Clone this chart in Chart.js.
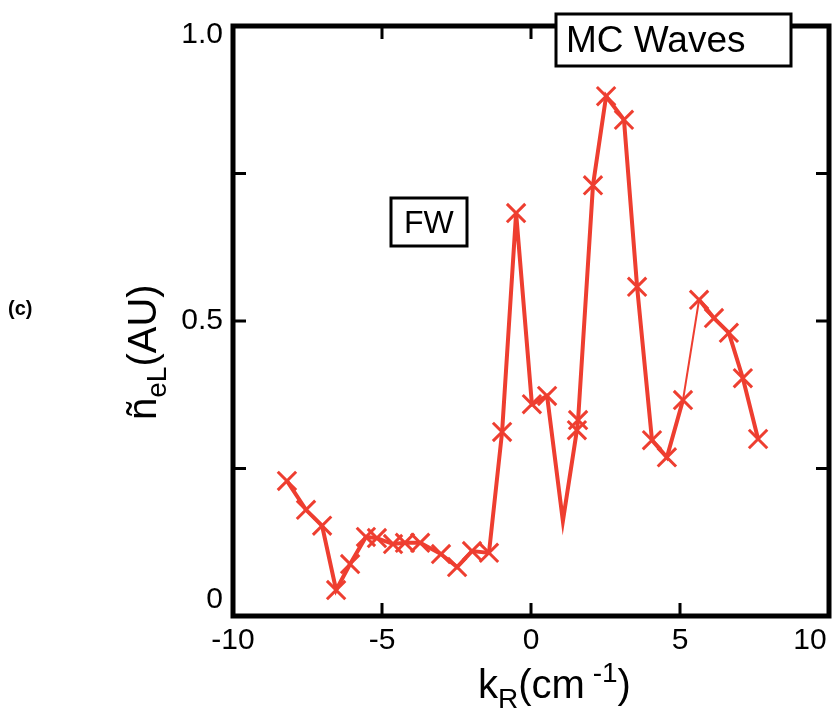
<!DOCTYPE html>
<html>
<head>
<meta charset="utf-8">
<script src="https://cdn.jsdelivr.net/npm/chart.js@4/dist/chart.umd.min.js"></script>
<style>
  html, body { margin: 0; padding: 0; background: #fff; }
  #wrap { width: 833px; height: 712px; }
</style>
</head>
<body>
<div id="wrap"><canvas id="chart" width="833" height="712"></canvas></div>
<script>
// Data (k_R in cm^-1, n_eL in AU)
const kR = [-8.19, -7.55, -7.01, -6.54, -6.07, -5.54, -5.17, -4.63, -4.23, -3.72, -3.02, -2.48, -1.98, -1.41,
  -0.97, -0.50, 0.03, 0.54, 1.07, 1.54, 1.58, 2.08, 2.52, 3.12, 3.56, 4.06, 4.56, 5.10, 5.64, 6.14, 6.64, 7.11, 7.62];
const nEL = [0.229, 0.180, 0.153, 0.044, 0.088, 0.134, 0.132, 0.122, 0.124, 0.124, 0.105, 0.083, 0.110, 0.107,
  0.312, 0.683, 0.359, 0.373, 0.161, 0.315, 0.332, 0.730, 0.881, 0.841, 0.558, 0.298, 0.269, 0.366, 0.536, 0.505, 0.480, 0.403, 0.300];

const xTickVals = [-10, -5, 0, 5, 10];
const xTickLabels = ['-10', '-5', '0', '5', '10'];
const yTickVals = [0, 0.5, 1.0];
const yTickLabels = ['0', '0.5', '1.0'];
const yMinorVals = [0.25, 0.75];

const RED = 'rgb(238, 62, 48)';
const FONT = '"Liberation Sans", Arial, Helvetica, sans-serif';

// the dip near k_R = 1 has no marker in the original
const noMarker = [18];

// frame, inward ticks, labels and annotations
const framePlugin = {
  id: 'frame',
  afterDraw(chart) {
    const { ctx, chartArea: a, scales: { x, y } } = chart;
    ctx.save();
    ctx.strokeStyle = '#000';
    ctx.fillStyle = '#000';

    // ticks
    ctx.lineWidth = 3;
    const tl = 13;
    xTickVals.slice(1, -1).forEach(v => {
      const px = x.getPixelForValue(v);
      ctx.beginPath();
      ctx.moveTo(px, a.bottom); ctx.lineTo(px, a.bottom - tl);
      ctx.moveTo(px, a.top); ctx.lineTo(px, a.top + tl);
      ctx.stroke();
    });
    [...yMinorVals, 0.5].forEach(v => {
      const py = y.getPixelForValue(v);
      ctx.beginPath();
      ctx.moveTo(a.left, py); ctx.lineTo(a.left + tl, py);
      ctx.moveTo(a.right, py); ctx.lineTo(a.right - tl, py);
      ctx.stroke();
    });

    // frame
    ctx.lineWidth = 5;
    ctx.strokeRect(a.left, a.top, a.right - a.left, a.bottom - a.top);

    // tick labels
    ctx.font = '30px ' + FONT;
    ctx.textAlign = 'center';
    ctx.textBaseline = 'top';
    xTickVals.forEach((v, i) => {
      const px = Math.min(x.getPixelForValue(v), 810);
      ctx.fillText(xTickLabels[i], px, a.bottom + 10);
    });
    ctx.textAlign = 'right';
    ctx.textBaseline = 'middle';
    const yShift = [-16, 0, 9];
    yTickVals.forEach((v, i) => {
      ctx.fillText(yTickLabels[i], a.left - 10, y.getPixelForValue(v) + yShift[i]);
    });

    // x axis title: k_R(cm^-1)
    const ty = 698;
    ctx.textBaseline = 'alphabetic';
    ctx.textAlign = 'left';
    const big = '40px ' + FONT, small = '28px ' + FONT;
    const parts = [['k', big, 0], ['R', small, 10], ['(cm', big, 0], [' -1', small, -16], [')', big, 0]];
    let px = 478;
    parts.forEach(p => { ctx.font = p[1]; ctx.fillText(p[0], px, ty + p[2]); px += ctx.measureText(p[0]).width; });

    // y axis title: ñ_eL(AU)
    ctx.save();
    ctx.translate(156, 420);
    ctx.rotate(-Math.PI / 2);
    const yparts = [['ñ', big, 0], ['eL', small, 10], ['(AU)', big, 0]];
    px = 0;
    yparts.forEach(p => { ctx.font = p[1]; ctx.fillText(p[0], px, p[2]); px += ctx.measureText(p[0]).width; });
    ctx.restore();

    // panel label
    ctx.font = 'bold 20px ' + FONT;
    ctx.textAlign = 'left';
    ctx.textBaseline = 'middle';
    ctx.fillText('(c)', 8, 309);

    // boxed labels
    const box = (text, x0, y0, x1, y1, size, tx) => {
      ctx.fillStyle = '#fff';
      ctx.fillRect(x0, y0, x1 - x0, y1 - y0);
      ctx.lineWidth = 3;
      ctx.strokeStyle = '#000';
      ctx.strokeRect(x0, y0, x1 - x0, y1 - y0);
      ctx.fillStyle = '#000';
      ctx.font = size + 'px ' + FONT;
      ctx.textAlign = 'left';
      ctx.textBaseline = 'middle';
      ctx.fillText(text, tx, (y0 + y1) / 2 + 2);
    };
    box('MC Waves', 556, 14, 791, 66, 37, 566);
    box('FW', 391, 198, 467, 246, 32, 404);

    ctx.restore();
  }
};

new Chart(document.getElementById('chart'), {
  type: 'line',
  data: {
    datasets: [{
      data: kR.map((k, i) => ({ x: k, y: nEL[i] })),
      borderColor: RED,
      backgroundColor: RED,
      borderWidth: 4,
      pointStyle: 'crossRot',
      pointRadius: c => noMarker.includes(c.dataIndex) ? 0 : 13,
      pointBorderWidth: 3,
      pointBorderColor: RED,
      tension: 0,
      clip: false,
      segment: {
        borderWidth: c => c.p0DataIndex === 27 ? 2 : 4
      }
    }]
  },
  options: {
    responsive: false,
    animation: false,
    layout: { autoPadding: false, padding: { left: 233, right: 4, top: 26, bottom: 96 } },
    plugins: { legend: { display: false }, tooltip: { enabled: false } },
    scales: {
      x: { type: 'linear', min: -10, max: 10, display: false },
      y: { type: 'linear', min: 0, max: 1, display: false }
    }
  },
  plugins: [framePlugin]
});
</script>
</body>
</html>
